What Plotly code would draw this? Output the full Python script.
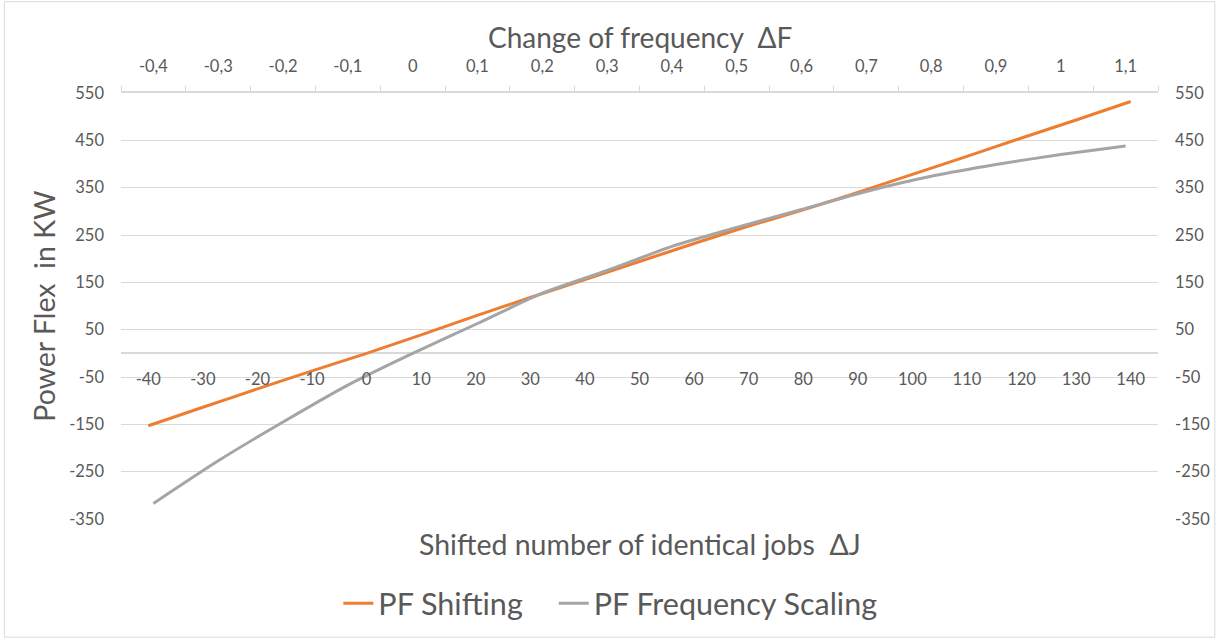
import plotly.graph_objects as go

# ---- data ----
delta_j = ["-40", "-30", "-20", "-10", "0", "10", "20", "30", "40", "50",
           "60", "70", "80", "90", "100", "110", "120", "130", "140"]
pf_shifting = [-153, -114, -75, -37, 0, 39, 79, 118, 156, 194,
               232, 269, 303, 340, 378, 416, 455, 493, 532]

delta_f = ["-0,4", "-0,3", "-0,2", "-0,1", "0", "0,1", "0,2", "0,3",
           "0,4", "0,5", "0,6", "0,7", "0,8", "0,9", "1", "1,1"]
pf_freq_scaling = [-317, -227, -145, -67, 0, 63, 127, 175,
                   226, 266, 304, 342, 374, 399, 420, 438]

y_ticks = [-350, -250, -150, -50, 50, 150, 250, 350, 450, 550]
y_range = [-350, 550]

# ---- style ----
FONT = "Lato, Calibri, sans-serif"
TXT = "#595959"
GRID = "#d9d9d9"
ORANGE = "#ED7D31"
GREY = "#A5A5A5"

W, H = 1222, 642
L, R, T, B = 121, 61, 93, 120
pw, ph = W - L - R, H - T - B

def px_x(p):
    return (p - L) / pw

def px_y(p):
    return (H - B - p) / ph

fig = go.Figure()
fig.add_trace(go.Scatter(
    x=delta_j, y=pf_shifting, name="PF Shifting", mode="lines",
    line=dict(color=ORANGE, width=3, shape="spline", smoothing=0.6),
    xaxis="x", yaxis="y", legend="legend"))
fig.add_trace(go.Scatter(
    x=delta_f, y=pf_freq_scaling, name="PF Frequency Scaling", mode="lines",
    line=dict(color=GREY, width=3, shape="spline", smoothing=0.6),
    xaxis="x2", yaxis="y2", legend="legend2"))

zero_pos = (0 - y_range[0]) / (y_range[1] - y_range[0])

legend_style = dict(orientation="h", yanchor="middle", xanchor="left",
                    font=dict(size=30.5, color=TXT, family=FONT),
                    itemwidth=30, bgcolor="rgba(0,0,0,0)")

fig.update_layout(
    width=W, height=H,
    margin=dict(l=L, r=R, t=T, b=B, pad=0),
    paper_bgcolor="white", plot_bgcolor="white",
    font=dict(family=FONT, color=TXT, size=16),
    showlegend=True,
    legend=dict(x=px_x(339), y=px_y(607), **legend_style),
    legend2=dict(x=px_x(555), y=px_y(607), **legend_style),
    xaxis=dict(type="category", categoryorder="array", categoryarray=delta_j,
               range=[-0.5, len(delta_j) - 0.5],
               anchor="free", position=zero_pos,
               showline=False, showgrid=False, zeroline=False,
               ticks="", ticklabelstandoff=14,
               tickfont=dict(size=16.5, color=TXT, family=FONT)),
    xaxis2=dict(type="category", categoryorder="array", categoryarray=delta_f,
                range=[-0.5, len(delta_f) - 0.5],
                overlaying="x", side="top", anchor="y2",
                showline=True, linecolor=GRID, linewidth=2,
                showgrid=False, zeroline=False,
                ticks="outside", tickson="boundaries", ticklen=5,
                tickcolor=GRID, tickwidth=1, ticklabelstandoff=12,
                tickfont=dict(size=16.5, color=TXT, family=FONT)),
    yaxis=dict(range=y_range, tickvals=y_ticks, ticktext=[str(v) for v in y_ticks],
               showgrid=True, gridcolor=GRID, gridwidth=1,
               zeroline=True, zerolinecolor=GRID, zerolinewidth=2,
               showline=False, ticks="", ticklabelstandoff=16,
               tickfont=dict(size=16.5, color=TXT, family=FONT)),
    yaxis2=dict(range=y_range, tickvals=y_ticks, ticktext=[str(v) for v in y_ticks],
                overlaying="y", side="right", anchor="x2",
                showgrid=False, zeroline=False, showline=False,
                ticks="", ticklabelstandoff=16,
                tickfont=dict(size=16.5, color=TXT, family=FONT)),
)

annos = [
    dict(text="Change of frequency  \u0394F", x=px_x(642), y=px_y(37), size=28),
    dict(text="Shifted number of identical jobs  \u0394J", x=px_x(641), y=px_y(547), size=28.5),
    dict(text="Power Flex  in KW", x=px_x(43), y=px_y(307), textangle=-90, size=28.5),
]
for a in annos:
    size = a.pop("size")
    fig.add_annotation(xref="paper", yref="paper", showarrow=False,
                       xanchor="center", yanchor="middle",
                       font=dict(size=size, color=TXT, family=FONT), **a)

fig.add_shape(type="rect", xref="paper", yref="paper",
              x0=px_x(4), x1=px_x(1218), y0=px_y(641), y1=px_y(1),
              line=dict(color=GRID, width=1), fillcolor="rgba(0,0,0,0)",
              layer="below")

fig.write_html("out.html",
               config={"displayModeBar": False},
               post_script="document.body.style.margin='0px';")
